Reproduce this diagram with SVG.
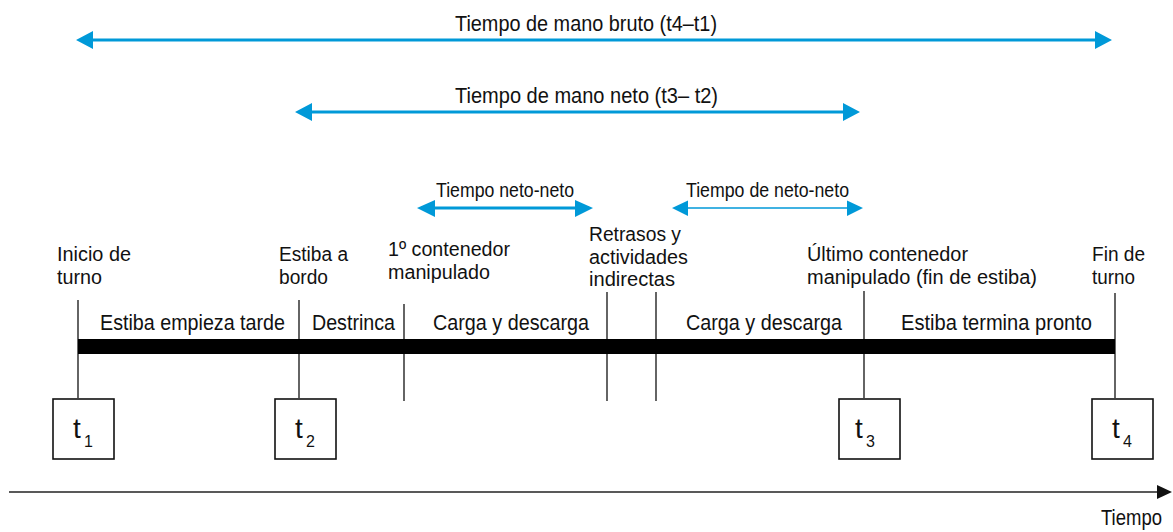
<svg xmlns="http://www.w3.org/2000/svg" width="1173" height="532" viewBox="0 0 1173 532">
<style>
text{font-family:"Liberation Sans",Arial,sans-serif;fill:#111}
.lb{font-size:22px}
.ml{font-size:20px}
.sm{font-size:19.5px}
.blue{stroke:#0099d8;fill:none}
.bh{fill:#0099d8}
.tk{stroke:#111;stroke-width:1.3;fill:none}
.box{stroke:#111;stroke-width:1.6;fill:#fff}
.tt{font-size:28px}
.ts{font-size:16px}
</style>
<g id="connectors">
<g id="bruto-arrow">
<line class="blue" x1="80" y1="40" x2="1108" y2="40" stroke-width="3"/>
<path class="bh" d="M76,40 L93,31 L93,49 z M1112,40 L1095,31 L1095,49 z"/>
</g>
<g id="neto-arrow">
<line class="blue" x1="299" y1="112" x2="856" y2="112" stroke-width="3"/>
<path class="bh" d="M295,112 L312,103 L312,121 z M860,112 L843,103 L843,121 z"/>
</g>
<g id="netoneto1-arrow">
<line class="blue" x1="421" y1="208" x2="589" y2="208" stroke-width="3"/>
<path class="bh" d="M417,208 L435,200 L435,217 z M593,208 L575,200 L575,217 z"/>
</g>
<g id="netoneto2-arrow">
<line class="blue" x1="676" y1="208" x2="859" y2="208" stroke-width="1.5"/>
<path class="bh" d="M672,208 L688,200.5 L688,216 z M863,208 L847,200.5 L847,216 z"/>
</g>
<g id="ticks">
<line class="tk" x1="78" y1="300" x2="78" y2="398"/>
<line class="tk" x1="299" y1="300" x2="299" y2="398"/>
<line class="tk" x1="404" y1="304" x2="404" y2="401"/>
<line class="tk" x1="607" y1="292" x2="607" y2="401"/>
<line class="tk" x1="656" y1="292" x2="656" y2="401"/>
<line class="tk" x1="864" y1="291" x2="864" y2="398"/>
<line class="tk" x1="1115" y1="293" x2="1115" y2="398"/>
</g>
<g id="time-axis">
<line x1="9" y1="492" x2="1158" y2="492" stroke="#222" stroke-width="1.5"/>
<path d="M1172,492 L1157,485 L1157,499 z" fill="#111"/>
</g>
</g>
<g id="bar"><rect x="78" y="339" width="1037" height="15" fill="#000"/></g>
<g id="label-bruto"><text class="lb" x="455" y="31" textLength="262" lengthAdjust="spacingAndGlyphs">Tiempo de mano bruto (t4–t1)</text></g>
<g id="label-neto"><text class="lb" x="455" y="103" textLength="263" lengthAdjust="spacingAndGlyphs">Tiempo de mano neto (t3– t2)</text></g>
<g id="label-nn1"><text class="sm" x="436" y="197" textLength="138" lengthAdjust="spacingAndGlyphs">Tiempo neto-neto</text></g>
<g id="label-nn2"><text class="sm" x="686" y="197" textLength="163" lengthAdjust="spacingAndGlyphs">Tiempo de neto-neto</text></g>
<g id="inicio"><text class="ml"><tspan x="57" y="261" textLength="74" lengthAdjust="spacingAndGlyphs">Inicio de</tspan><tspan x="57" y="283.5" textLength="45" lengthAdjust="spacingAndGlyphs">turno</tspan></text></g>
<g id="estiba-bordo"><text class="ml"><tspan x="279" y="261" textLength="69" lengthAdjust="spacingAndGlyphs">Estiba a</tspan><tspan x="279" y="283.5" textLength="49" lengthAdjust="spacingAndGlyphs">bordo</tspan></text></g>
<g id="primer"><text class="ml"><tspan x="388" y="256" textLength="122" lengthAdjust="spacingAndGlyphs">1º contenedor</tspan><tspan x="388" y="278.5" textLength="102" lengthAdjust="spacingAndGlyphs">manipulado</tspan></text></g>
<g id="retrasos"><text class="ml"><tspan x="589" y="241" textLength="92" lengthAdjust="spacingAndGlyphs">Retrasos y</tspan><tspan x="589" y="263.5" textLength="99" lengthAdjust="spacingAndGlyphs">actividades</tspan><tspan x="589" y="286" textLength="86" lengthAdjust="spacingAndGlyphs">indirectas</tspan></text></g>
<g id="ultimo"><text class="ml"><tspan x="807" y="261" textLength="161" lengthAdjust="spacingAndGlyphs">Último contenedor</tspan><tspan x="807" y="283.5" textLength="230" lengthAdjust="spacingAndGlyphs">manipulado (fin de estiba)</tspan></text></g>
<g id="fin"><text class="ml"><tspan x="1092" y="261" textLength="53" lengthAdjust="spacingAndGlyphs">Fin de</tspan><tspan x="1092" y="283.5" textLength="43" lengthAdjust="spacingAndGlyphs">turno</tspan></text></g>
<g id="segments">
<text class="lb" x="100" y="330" textLength="185" lengthAdjust="spacingAndGlyphs">Estiba empieza tarde</text>
<text class="lb" x="312" y="330" textLength="83" lengthAdjust="spacingAndGlyphs">Destrinca</text>
<text class="lb" x="433" y="330" textLength="156" lengthAdjust="spacingAndGlyphs">Carga y descarga</text>
<text class="lb" x="686" y="330" textLength="156" lengthAdjust="spacingAndGlyphs">Carga y descarga</text>
<text class="lb" x="901" y="330" textLength="191" lengthAdjust="spacingAndGlyphs">Estiba termina pronto</text>
</g>
<g id="t1"><rect class="box" x="53" y="399" width="61" height="60"/><text class="tt" x="73" y="438">t</text><text class="ts" x="84" y="447">1</text></g>
<g id="t2"><rect class="box" x="275" y="399" width="61" height="60"/><text class="tt" x="295" y="438">t</text><text class="ts" x="306" y="447">2</text></g>
<g id="t3"><rect class="box" x="839" y="399" width="61" height="60"/><text class="tt" x="855" y="438">t</text><text class="ts" x="866" y="447">3</text></g>
<g id="t4"><rect class="box" x="1092" y="399" width="61" height="60"/><text class="tt" x="1112" y="438">t</text><text class="ts" x="1123" y="447">4</text></g>
<g id="tiempo"><text class="lb" x="1101" y="525" textLength="61" lengthAdjust="spacingAndGlyphs">Tiempo</text></g>
</svg>
